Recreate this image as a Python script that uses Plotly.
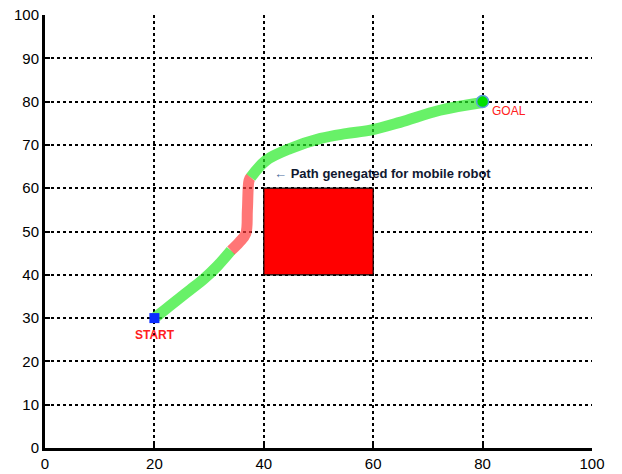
import plotly.graph_objects as go

# Planned path, split into free-space and near-obstacle segments
path1_x = [20, 22, 24, 26.5, 29, 31.5, 34]
path1_y = [30, 32, 34, 36.5, 39, 42, 45.6]
path2_x = [34, 35.5, 36.7, 37.0, 37.3, 37.6]
path2_y = [45.6, 47.5, 49.5, 55, 61.8, 62.5]
path3_x = [37.6, 40.4, 44.9, 50.4, 55, 59.5, 64.9, 72.2, 80]
path3_y = [62.5, 66.4, 69.2, 71.5, 72.6, 73.4, 75.2, 78, 79.8]

start = (20, 30)
goal = (80, 80)
obstacle_x = [40, 60, 60, 40, 40]
obstacle_y = [40, 40, 60, 60, 40]

xticks = [0, 20, 40, 60, 80, 100]
yticks = [0, 10, 20, 30, 40, 50, 60, 70, 80, 90, 100]

fig = go.Figure()

fig.add_trace(go.Scatter(x=obstacle_x, y=obstacle_y, mode="lines", fill="toself",
                         fillcolor="#ff0000", line=dict(color="black", width=1.2)))

green = "rgba(40,235,40,0.7)"
red = "rgba(255,60,60,0.7)"
fig.add_trace(go.Scatter(x=path1_x, y=path1_y, mode="lines",
                         line=dict(color=green, width=11, shape="spline")))
fig.add_trace(go.Scatter(x=path2_x, y=path2_y, mode="lines",
                         line=dict(color=red, width=11, shape="spline")))
fig.add_trace(go.Scatter(x=path3_x, y=path3_y, mode="lines",
                         line=dict(color=green, width=11, shape="spline")))

fig.add_trace(go.Scatter(x=[start[0]], y=[start[1]], mode="markers",
                         marker=dict(symbol="square", size=10, color="#0a2cff")))
fig.add_trace(go.Scatter(x=[goal[0]], y=[goal[1]], mode="markers",
                         marker=dict(symbol="circle", size=12, color="#00e000",
                                     line=dict(color="#5a9be0", width=1.5))))

fig.add_annotation(x=start[0], y=start[1], text="<b>START</b>", showarrow=False,
                   yshift=-17, xshift=1, font=dict(color="#ff2020", size=12, family="Arial"))
fig.add_annotation(x=goal[0], y=goal[1], text="GOAL", showarrow=False,
                   xanchor="left", xshift=7, yshift=-9,
                   font=dict(color="#ff2020", size=12, family="Arial"))
fig.add_annotation(x=41.5, y=63.5, text="<span style='color:#4a6a9a'>\u2190</span> <b>Path genegated for mobile robot</b>",
                   showarrow=False, xanchor="left",
                   font=dict(color="#101830", size=13, family="Arial"))

axis_common = dict(showline=True, linecolor="black", linewidth=3, mirror=False,
                   ticks="inside", ticklen=5, tickwidth=1.5, tickcolor="black",
                   showgrid=True, gridcolor="black", gridwidth=1.5, griddash="dot",
                   zeroline=False, automargin=False,
                   tickfont=dict(family="Arial", size=15, color="black"))

fig.update_xaxes(range=[0, 100], tickvals=xticks, **axis_common)
fig.update_yaxes(range=[0, 100], tickvals=yticks, **axis_common)

fig.update_layout(width=622, height=474, showlegend=False,
                  plot_bgcolor="white", paper_bgcolor="white",
                  margin=dict(l=45, r=30, t=15, b=26))

fig.write_html("out.html")
